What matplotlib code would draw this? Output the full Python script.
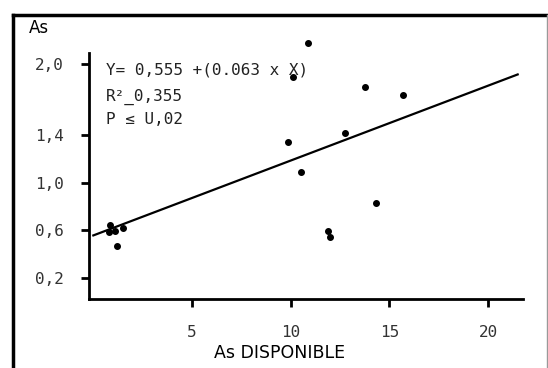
import numpy as np
import matplotlib
matplotlib.use('Agg')
import matplotlib.pyplot as plt
from matplotlib.lines import Line2D

# data
as_disp = [0.85, 0.80, 1.10, 1.50, 1.20,
           10.9, 10.1, 13.76, 15.7, 9.86, 12.75, 10.5, 14.3, 11.9, 12.0]
as_val = [0.64, 0.58, 0.59, 0.62, 0.47,
          2.17, 1.89, 1.80, 1.74, 1.34, 1.42, 1.09, 0.83, 0.59, 0.54]
intercept = 0.555
slope = 0.063
xticks = [5, 10, 15, 20]
yticks = [0.2, 0.6, 1.0, 1.4, 2.0]
ytick_labels = ['0,2', '0,6', '1,0', '1,4', '2,0']

fig = plt.figure(figsize=(5.48, 3.68), dpi=100)
ax = fig.add_axes([89/548, 1-299/368, (523-89)/548, (299-53)/368])

ax.plot(as_disp, as_val, 'o', color='black', ms=4, clip_on=False)
xl = np.array([0.0, 21.5])
ax.plot(xl, intercept + slope*xl, color='black', lw=1.6, clip_on=False)

mono = 'DejaVu Sans Mono'
ax.set_xlim(-0.22, 21.77)
ax.set_ylim(0.02, 2.09)
ax.set_xticks(xticks)
ax.set_xticklabels([str(t) for t in xticks], fontsize=11.5, color='#333333', family=mono)
ax.set_yticks(yticks)
ax.set_yticklabels(ytick_labels, fontsize=11.5, color='#333333', family=mono)
ax.tick_params(axis='both', direction='out', length=6, width=2)
ax.tick_params(axis='x', pad=13)
ax.tick_params(axis='y', pad=12)
for s in ['top', 'right']:
    ax.spines[s].set_visible(False)
for s in ['left', 'bottom']:
    ax.spines[s].set_linewidth(2)

txt = dict(fontsize=11.5, color='#222222', family=mono, transform=fig.transFigure, va='center')
fig.text(106/548, 1-70/368, 'Y= 0,555 +(0.063 x X)', **txt)
fig.text(106/548, 1-97/368, 'R²_0,355', **txt)
fig.text(106/548, 1-119/368, 'P ≤ U,02', **txt)

fig.text(39/548, 1-28/368, 'As', fontsize=12, ha='center', va='center')
fig.text(280/548, 1-353/368, 'As DISPONIBLE', fontsize=12.5, ha='center', va='center')

# outer frame
fig.add_artist(Line2D([13/548, 13/548], [0, 1-15/368], color='black', lw=2.5))
fig.add_artist(Line2D([13/548, 1], [1-15/368, 1-15/368], color='black', lw=2.5))
fig.add_artist(Line2D([547/548, 547/548], [0, 1-15/368], color='#999999', lw=1))

fig.savefig('out.png', dpi=100)
